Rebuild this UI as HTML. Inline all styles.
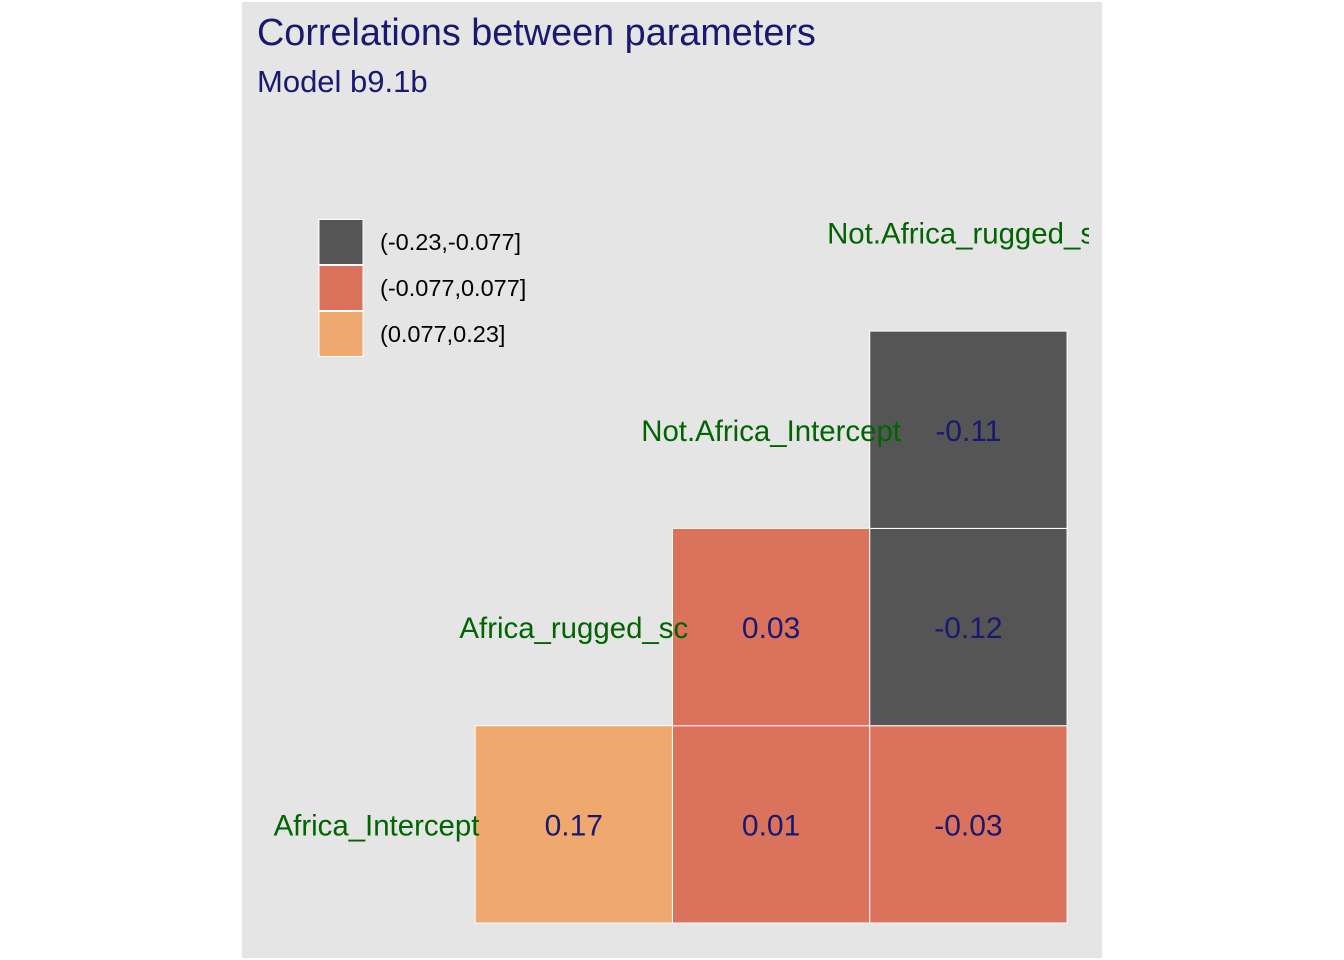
<!DOCTYPE html>
<html><head><meta charset="utf-8"><style>
body{margin:0;background:#fff;}
svg{display:block;font-family:"Liberation Sans",Arial,sans-serif;}
</style></head><body>
<svg width="1344" height="960">
<rect x="242" y="2" width="860" height="956" fill="#E5E5E5"/>
<text x="257" y="45" font-size="37.8" fill="#191970">Correlations between parameters</text>
<text x="257" y="92" font-size="31" fill="#191970">Model b9.1b</text>
<g id="legend"></g>
<defs><clipPath id="pc"><rect x="242" y="2" width="847" height="956"/></clipPath></defs>
<g id="cells" clip-path="url(#pc)"></g>
</svg>
<script>
const params = ["Africa_Intercept","Africa_rugged_sc","Not.Africa_Intercept","Not.Africa_rugged_sc"];
const pairRows = [0,0,0,1,1,2];
const pairCols = [1,2,3,2,3,3];
const corrValues = [0.17,0.01,-0.03,0.03,-0.12,-0.11];
const breaks = [-0.23,-0.077,0.077,0.23];
const legendLabels = ["(-0.23,-0.077]","(-0.077,0.077]","(0.077,0.23]"];
const binColors = ["#555555","#DB735C","#EFA86E"];

const NS="http://www.w3.org/2000/svg";
const g=document.getElementById('cells'), lg=document.getElementById('legend');
const cell=197.3, xc0=376.5, yBase=923;
const xCenter=i=>xc0+i*cell;
const yTop=r=>yBase-(r+1)*cell;
function bin(v){for(let i=0;i<3;i++){if(v<=breaks[i+1])return i;}return 2;}
function mk(t,a){const e=document.createElementNS(NS,t);for(const k in a)e.setAttribute(k,a[k]);return e;}
corrValues.forEach((v,i)=>{
  const c=pairCols[i], r=pairRows[i];
  const rect=mk('rect',{x:xCenter(c)-cell/2,y:yTop(r),width:cell,height:cell,fill:binColors[bin(v)],stroke:'#fff','stroke-width':1});
  
  
  g.appendChild(rect);
  const t=mk('text',{x:xCenter(c),y:yTop(r)+cell/2+11,'font-size':30,fill:'#191970','text-anchor':'middle'});
  t.textContent=v.toFixed(2);
  
  
  g.appendChild(t);
});
params.forEach((p,i)=>{
  const t=mk('text',{x:xCenter(i),y:yTop(i)+cell/2+11,'font-size':29.4,fill:'#006400','text-anchor':'middle'});
  t.textContent=p;
  
  
  g.appendChild(t);
});
legendLabels.forEach((l,i)=>{
  const r=mk('rect',{x:319,y:219.5+i*46,width:44,height:45,fill:binColors[i],stroke:'#fff','stroke-width':1});
  
  
  lg.appendChild(r);
  const t=mk('text',{x:380,y:250+i*46,'font-size':23.5,fill:'#000'});
  t.textContent=l;
  
  
  lg.appendChild(t);
});
</script>
</body></html>
